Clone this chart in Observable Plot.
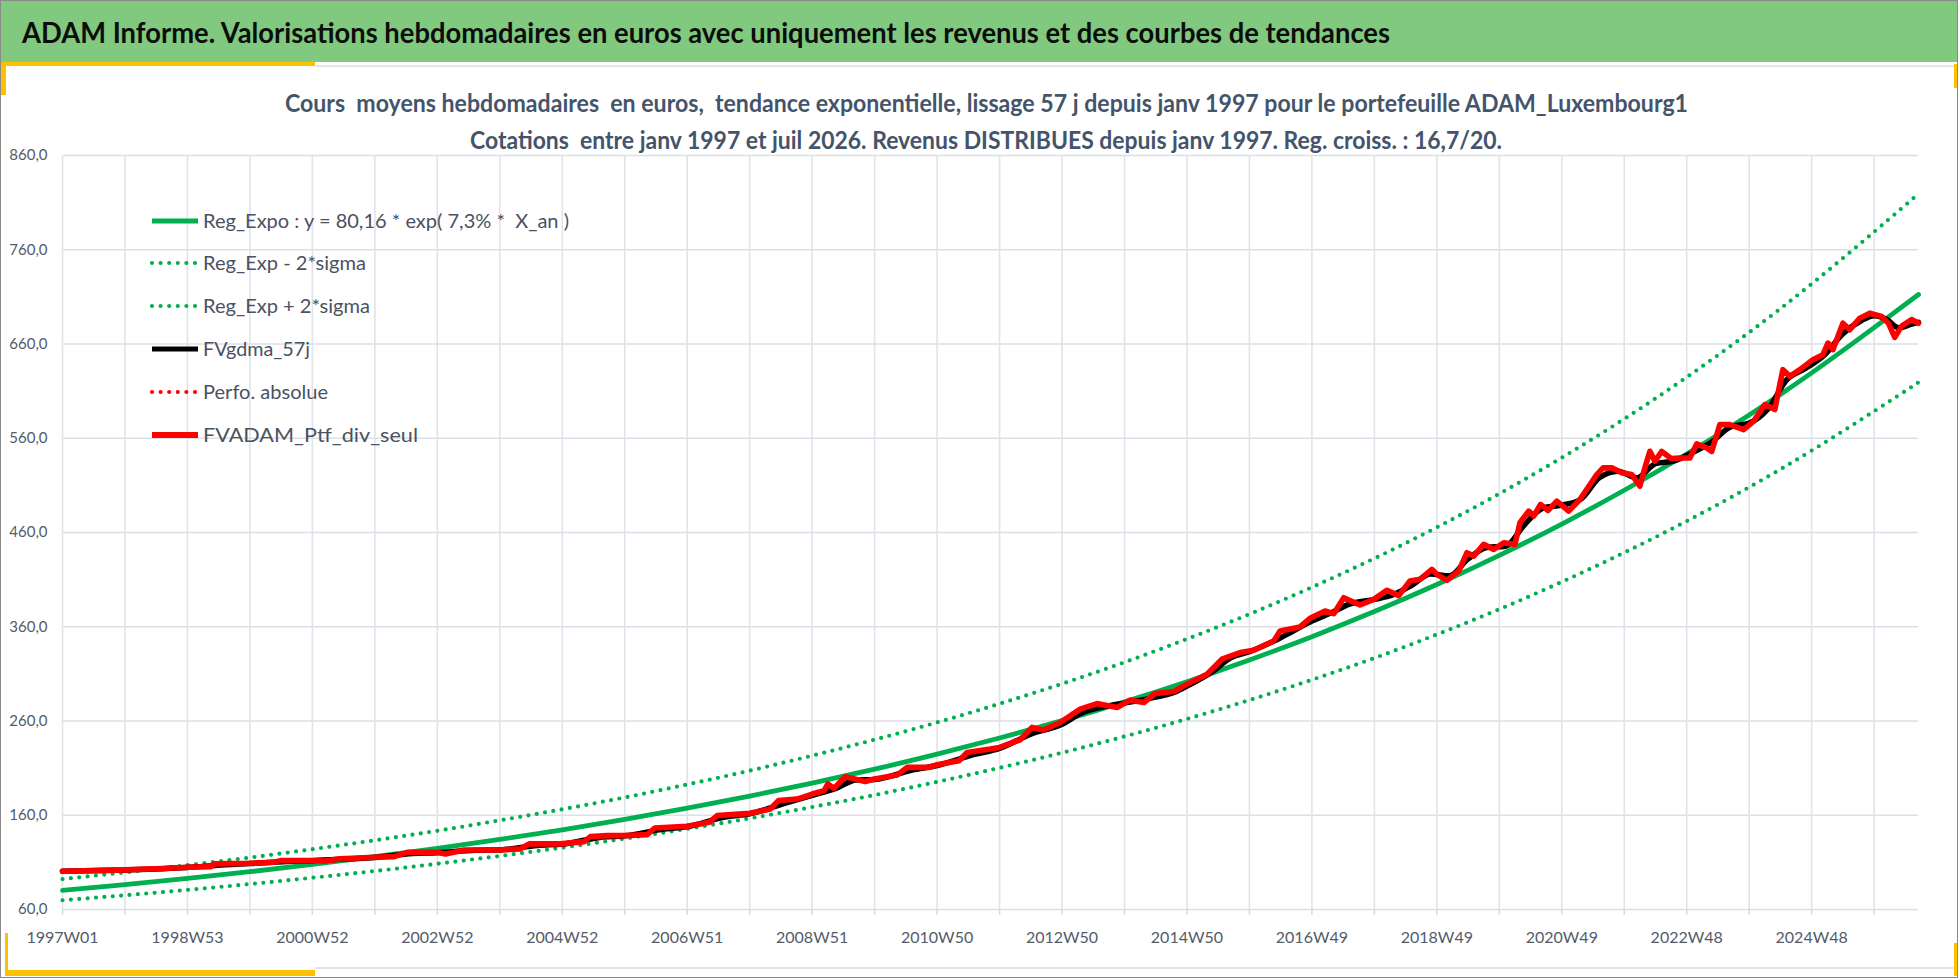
<!DOCTYPE html>
<html><head><meta charset="utf-8">
<script src="https://cdn.jsdelivr.net/npm/d3@7"></script>
<script src="https://cdn.jsdelivr.net/npm/@observablehq/plot@0.6"></script>
<style>
html,body{margin:0;padding:0;background:#fff;}
#page{position:relative;width:1958px;height:978px;overflow:hidden;background:#fff;font-family:Lato,"Open Sans",sans-serif;}
.abs{position:absolute;}
#chart{position:absolute;left:0;top:140px;}
svg text{white-space:pre;}
</style></head><body><div id="page">
 <div class="abs" style="left:0;top:0;width:1958px;height:62px;background:#80c97f;"></div>
 <div class="abs" style="left:315px;top:65px;width:1640px;height:2px;background:#e2e5ea;"></div>
 <div class="abs" style="left:0;top:62px;width:315px;height:4px;background:#ffc000;"></div>
 <div class="abs" style="left:0;top:62px;width:6px;height:33px;background:#ffc000;"></div>
 <div class="abs" style="left:1954px;top:64px;width:4px;height:24px;background:#ffc000;"></div>
 <div class="abs" style="left:315px;top:967px;width:1640px;height:2px;background:#e2e5ea;"></div>
 <div class="abs" style="left:5px;top:970px;width:310px;height:6px;background:#ffc000;"></div>
 <div class="abs" style="left:5px;top:933px;width:3px;height:43px;background:#ffc000;"></div>
 <div class="abs" style="left:1954px;top:943px;width:4px;height:33px;background:#ffc000;"></div>
 <div class="abs" style="left:0;top:0;width:1956px;height:976px;border:1px solid #8a8a8a;"></div>
 <svg id="head" class="abs" style="left:0;top:0" width="1958" height="160"></svg>
 <div id="chart"></div>
 <svg id="legend" class="abs" style="left:0;top:0;pointer-events:none" width="1958" height="978"></svg>
</div>
<script>
// ---------- texts ----------
const titleText = "ADAM Informe. Valorisations hebdomadaires en euros avec uniquement les revenus et des courbes de tendances";
const subtitle1 = "Cours  moyens hebdomadaires  en euros,  tendance exponentielle, lissage 57 j depuis janv 1997 pour le portefeuille ADAM_Luxembourg1";
const subtitle2 = "Cotations  entre janv 1997 et juil 2026. Revenus DISTRIBUES depuis janv 1997. Reg. croiss. : 16,7/20.";

// ---------- axes ----------
const xLabels = ["1997W01","1998W53","2000W52","2002W52","2004W52","2006W51","2008W51","2010W50","2012W50","2014W50","2016W49","2018W49","2020W49","2022W48","2024W48"];
const yTicks = [60,160,260,360,460,560,660,760,860];
const yearTicks = [0,1,2,3,4,5,6,7,8,9,10,11,12,13,14,15,16,17,18,19,20,21,22,23,24,25,26,27,28,29];
const labelTicks = [0,2,4,6,8,10,12,14,16,18,20,22,24,26,28];

// ---------- trend curves (x = years since 1997W01) ----------
const trendT = [0,1,2,3,4,5,6,7,8,9,10,11,12,13,14,15,16,17,18,19,20,21,22,23,24,25,26,27,28,29,29.71];
const trendV = [80.3,86.4,93.0,100.1,107.8,116.0,124.8,134.4,144.6,155.6,167.5,180.3,194.1,208.9,224.8,242.0,260.4,280.3,301.7,324.7,349.5,376.1,404.8,435.7,469.0,504.8,543.3,584.7,629.4,677.4,712.5];
const upperV = [92.3,99.4,107.0,115.1,124.0,133.4,143.5,154.6,166.3,178.9,192.6,207.3,223.2,240.2,258.5,278.3,299.5,322.3,347.0,373.4,401.9,432.5,465.5,501.1,539.4,580.5,624.8,672.4,723.8,779.0,819.4];
const lowerV = [69.8,75.1,80.8,87.0,93.7,100.8,108.5,116.8,125.7,135.2,145.6,156.7,168.7,181.5,195.4,210.3,226.3,243.6,262.2,282.2,303.7,326.8,351.8,378.6,407.6,438.7,472.1,508.1,546.9,588.7,619.2];

// ---------- portfolio FVADAM_Ptf_div_seul: [years, value] ----------
const portfolio = [
[0.00,100.6],[0.50,101.2],[0.99,102.0],[1.50,103.2],[2.00,104.8],[2.37,105.5],[2.43,108.4],[3.00,109.0],
[3.39,110.1],[3.49,111.9],[4.00,111.9],[4.20,111.4],[4.45,113.7],[5.00,115.4],[5.31,116.1],[5.52,120.7],
[6.00,120.7],[6.13,119.0],[6.43,123.2],[7.00,123.2],[7.33,124.3],[7.47,129.6],[7.97,129.6],[8.35,132.0],
[8.45,137.3],[8.72,138.4],[9.00,138.4],[9.36,139.4],[9.48,146.5],[10.00,148.3],[10.35,152.5],[10.48,159.6],
[11.00,162.0],[11.33,166.6],[11.46,175.5],[11.76,177.2],[12.00,182.5],[12.19,186.0],[12.25,193.1],[12.35,188.5],
[12.53,200.9],[12.85,195.9],[13.00,198.4],[13.36,202.6],[13.52,210.8],[13.87,210.8],[14.00,213.6],[14.35,217.8],
[14.48,226.6],[14.85,230.2],[15.00,232.0],[15.33,240.1],[15.52,253.2],[15.70,250.4],[15.97,258.4],[16.29,272.6],
[16.56,278.5],[16.88,274.3],[17.09,282.1],[17.31,279.6],[17.49,289.2],[17.79,291.3],[18.00,299.1],[18.32,309.7],
[18.56,325.6],[18.85,332.6],[19.07,335.1],[19.39,345.0],[19.49,355.6],[19.81,359.8],[19.97,369.0],[20.21,376.7],
[20.35,373.9],[20.51,390.8],[20.77,383.1],[20.99,389.1],[21.20,398.7],[21.39,393.0],[21.57,408.5],[21.73,410.3],
[21.92,420.9],[22.00,415.6],[22.16,409.2],[22.35,419.1],[22.48,438.5],[22.59,435.0],[22.75,447.4],[22.91,442.1],
[23.07,449.1],[23.25,447.4],[23.33,470.3],[23.47,482.7],[23.55,477.4],[23.66,489.8],[23.78,483.4],[23.92,493.3],
[24.11,482.7],[24.29,495.0],[24.56,521.5],[24.66,528.6],[24.80,528.6],[24.96,523.3],[25.12,521.5],[25.25,509.2],
[25.33,528.6],[25.41,546.2],[25.49,535.6],[25.60,546.0],[25.75,538.5],[25.89,539.0],[26.05,539.0],[26.16,554.0],
[26.32,549.7],[26.40,546.0],[26.53,574.5],[26.69,574.5],[26.91,569.2],[27.07,578.0],[27.25,595.7],[27.41,590.4],
[27.49,616.9],[27.54,632.8],[27.65,625.7],[27.81,632.8],[28.02,643.4],[28.18,648.7],[28.26,661.0],[28.34,654.0],
[28.50,682.1],[28.61,675.1],[28.77,687.4],[28.93,692.7],[29.12,689.2],[29.23,682.0],[29.33,667.0],[29.44,679.0],
[29.60,686.0],[29.71,682.0]
];

// ---------- smoothed FVgdma_57j ----------
const smoothT = [0,1,2,2.6,3,3.6,4,4.6,5,5.6,6,6.6,7,7.6,8,8.6,9,9.6,10,10.6,11,11.6,12,12.4,12.7,13,13.6,14,14.6,15,15.5,16,16.3,16.7,17,17.4,17.8,18,18.4,18.7,19,19.4,19.7,20,20.3,20.6,21,21.3,21.6,21.9,22.2,22.5,22.8,23.1,23.4,23.7,24,24.3,24.6,24.9,25.2,25.5,25.8,26.1,26.4,26.7,27,27.3,27.6,27.9,28.2,28.5,28.8,29.0,29.2,29.4,29.6,29.71];
const smoothV = [100.6,102,104.6,107.5,108.8,111,111.8,113.8,115.2,119.5,120.3,122.8,123.2,128,129.4,136.5,138.2,145,148,158,161.5,173.5,181,189,197.5,198,208,212.8,224.5,231,246,256.5,268,275.5,279,284,290.5,297,312,327,333.5,345,355.5,366,374.5,384,389,394,404,416,414,432,444,445.5,468,486,489,495,518,525,518,533,536,545,556,572,576,591,622,634,648,671,685,690,686,677,681,683];

// ---------- legend ----------
const legendItems = [
  {label:"Reg_Expo : y = 80,16 * exp( 7,3% *  X_an )", color:"#00b050", dash:null, w:5, len:366},
  {label:"Reg_Exp - 2*sigma", color:"#00b050", dash:"0,8.6", w:4.2, len:163},
  {label:"Reg_Exp + 2*sigma", color:"#00b050", dash:"0,8.6", w:4.2, len:167},
  {label:"FVgdma_57j", color:"#000000", dash:null, w:5, len:107},
  {label:"Perfo. absolue", color:"#ff0000", dash:"0,8.6", w:4.2, len:125},
  {label:"FVADAM_Ptf_div_seul", color:"#ff0000", dash:null, w:6, len:215}
];

// ---------- header texts ----------
const FONT = "Lato, 'Open Sans', sans-serif";
const head = d3.select("#head");
head.append("text").attr("x",22).attr("y",43).attr("font-size",28).attr("font-weight",700)
  .attr("fill","#0d0d0d").attr("textLength",1368).attr("lengthAdjust","spacingAndGlyphs")
  .style("font-family",FONT).text(titleText);
head.append("text").attr("x",285).attr("y",112).attr("font-size",24).attr("font-weight",700)
  .attr("fill","#44546a").attr("textLength",1403).attr("lengthAdjust","spacingAndGlyphs")
  .style("font-family",FONT).text(subtitle1);
head.append("text").attr("x",470).attr("y",149).attr("font-size",24).attr("font-weight",700)
  .attr("fill","#44546a").attr("textLength",1032).attr("lengthAdjust","spacingAndGlyphs")
  .style("font-family",FONT).text(subtitle2);

// ---------- chart ----------
const toRows = (T, V) => T.map((t, i) => ({t, v: V[i]}));
const trend = toRows(trendT, trendV);
const upper = toRows(trendT, upperV);
const lower = toRows(trendT, lowerV);
const port = portfolio.map(([t, v]) => ({t, v}));
const smooth = toRows(smoothT, smoothV);

const labelColor = "#545b68";
const chart = Plot.plot({
  width: 1958, height: 838,
  marginTop: 15, marginBottom: 69, marginLeft: 62, marginRight: 40,
  x: {domain: [0, 29.71], axis: null, label: null},
  y: {domain: [60, 860], axis: null, label: null},
  style: {fontFamily: FONT, background: "transparent", overflow: "visible"},
  marks: [
    Plot.gridY(yTicks, {stroke: "#dcdfe6", strokeOpacity: 1, strokeWidth: 1.6}),
    Plot.gridX(yearTicks, {stroke: "#e0e3ea", strokeOpacity: 1, strokeWidth: 1.6}),
    Plot.axisX(yearTicks, {tickSize: 6, tickFormat: () => "", stroke: "#d9dce3", strokeWidth: 1.6, label: null}),
    Plot.axisX(labelTicks, {tickSize: 0, tickPadding: 22, tickFormat: d => xLabels[Math.round(d / 2)], fontSize: 16, fill: labelColor, label: null}),
    Plot.axisY(yTicks, {tickSize: 0, tickPadding: 15, tickFormat: d => d.toFixed(1).replace(".", ","), fontSize: 15, fill: labelColor, label: null}),
    Plot.line(upper, {x: "t", y: "v", stroke: "#00b050", strokeWidth: 4.2, strokeDasharray: "0,8.4", strokeLinecap: "round", curve: "natural"}),
    Plot.line(lower, {x: "t", y: "v", stroke: "#00b050", strokeWidth: 4.2, strokeDasharray: "0,8.4", strokeLinecap: "round", curve: "natural"}),
    Plot.line(trend, {x: "t", y: "v", stroke: "#00b050", strokeWidth: 4.8, curve: "natural"}),
    Plot.line(smooth, {x: "t", y: "v", stroke: "#000000", strokeWidth: 5.5, curve: "monotone-x"}),
    Plot.line(port, {x: "t", y: "v", stroke: "#ff0000", strokeWidth: 2.5, strokeDasharray: "0,6", strokeLinecap: "round"}),
    Plot.line(port, {x: "t", y: "v", stroke: "#ff0000", strokeWidth: 5.6, strokeLinejoin: "round", strokeLinecap: "round"})
  ]
});
document.getElementById("chart").appendChild(chart);

// ---------- legend drawing ----------
const lg = d3.select("#legend");
const rowY = [221, 263, 306, 349, 392, 435];
legendItems.forEach((it, i) => {
  const y = rowY[i];
  const ln = lg.append("line").attr("x1", 152).attr("x2", 198).attr("y1", y).attr("y2", y)
    .attr("stroke", it.color).attr("stroke-width", it.w).attr("stroke-linecap", it.dash ? "round" : "butt");
  if (it.dash) ln.attr("stroke-dasharray", it.dash);
  lg.append("text").attr("x", 203).attr("y", y + 7).attr("font-size", 20).attr("fill", "#4a5262")
    .attr("textLength", it.len).attr("lengthAdjust", "spacingAndGlyphs")
    .style("font-family", FONT).text(it.label);
});
</script></body></html>
